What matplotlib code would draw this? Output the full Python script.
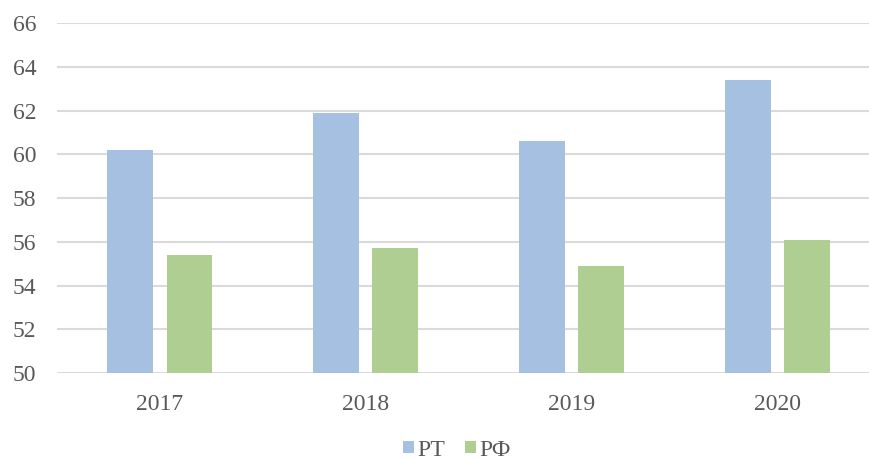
import matplotlib
matplotlib.use("Agg")
import matplotlib.pyplot as plt
import numpy as np

years = ["2017", "2018", "2019", "2020"]
rt = [60.2, 61.9, 60.6, 63.4]
rf = [55.4, 55.7, 54.9, 56.1]
series_names = ["РТ", "РФ"]
yticks = [50, 52, 54, 56, 58, 60, 62, 64, 66]

plt.rcParams['font.family'] = ['Liberation Serif', 'DejaVu Serif']

fig = plt.figure(figsize=(8.7, 4.61), dpi=100)
ax = fig.add_axes([57/870, 1 - 373/461, 1 - 57/870, (373 - 23)/461])

x = np.arange(len(years))
w = 0.223
off = 0.144
ax.bar(x - off, rt, width=w, color="#A5C0E1", label=series_names[0], zorder=3)
ax.bar(x + off, rf, width=w, color="#AFCE92", label=series_names[1], zorder=3)

ax.set_ylim(50, 66)
ax.set_xlim(-0.5, 3.45)
ax.set_yticks(yticks)
ax.set_xticks(x)
ax.set_xticklabels(years)
ax.yaxis.grid(True, color="#DADADA", linewidth=1.5, zorder=0)
ax.set_axisbelow(True)
for s in ax.spines.values():
    s.set_visible(False)
ax.tick_params(axis='both', length=0, labelsize=17, colors="#595959")
ax.tick_params(axis='x', pad=15)
ax.tick_params(axis='y', pad=15)

fig.legend(loc='center', bbox_to_anchor=(457/870, 1 - 450/461), ncol=2, frameon=False,
           fontsize=17, handlelength=0.45, handleheight=0.45, handletextpad=0.15,
           columnspacing=0.85, labelcolor="#595959")

fig.savefig("out.png", dpi=100)
